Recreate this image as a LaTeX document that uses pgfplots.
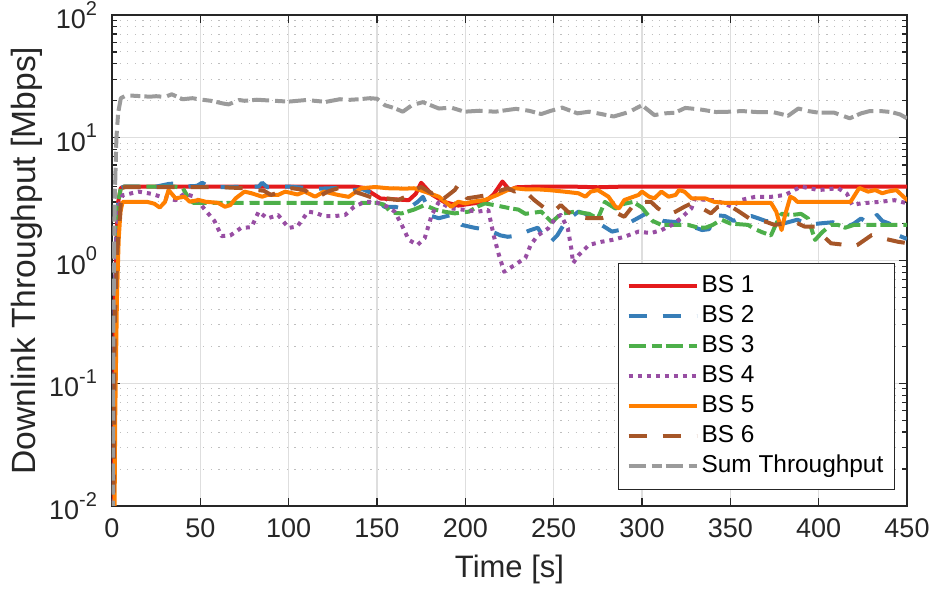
\documentclass[border=0pt]{standalone}
\usepackage{pgfplots}
\pgfplotsset{compat=1.18}
\usepackage{fontspec}
\setmainfont{Liberation Sans}

\definecolor{c1}{RGB}{228,26,28}
\definecolor{c2}{RGB}{55,126,184}
\definecolor{c3}{RGB}{77,175,74}
\definecolor{c4}{RGB}{152,78,163}
\definecolor{c5}{RGB}{255,127,0}
\definecolor{c6}{RGB}{166,86,40}
\definecolor{c7}{RGB}{155,155,155}
\definecolor{axgray}{RGB}{38,38,38}
\definecolor{gridmaj}{RGB}{222,222,222}
\definecolor{gridmin}{RGB}{190,190,190}

\newcommand{\tl}[1]{10\raisebox{0.5em}{\fontsize{10}{10}\selectfont #1}}

\begin{document}
\begin{tikzpicture}
\begin{axis}[
    width=397.5pt, height=245.5pt, scale only axis,
    xmin=0, xmax=450,
    ymode=log, ymin=0.01, ymax=100,
    xtick={0,50,...,450},
    ytick={0.01,0.1,1,10,100},
    yticklabels={\tl{-2},\tl{-1},\tl{0},\tl{1},\tl{2}},
    /pgf/number format/assume math mode=true,
    tick align=inside,
    major tick length=4pt, minor tick length=2.5pt,
    axis line style={axgray, line width=0.75pt},
    tick style={axgray, line width=0.6pt},
    ticklabel style={font=\fontsize{13.5}{16}\selectfont, text=axgray},
    xticklabel style={yshift=-3pt},
    yticklabel style={xshift=-4pt},
    xmajorgrids, ymajorgrids, yminorgrids,
    major grid style={gridmaj, line width=0.6pt},
    minor grid style={gridmin, line width=0.5pt, dash pattern=on 0.6pt off 3.2pt},
    xlabel={Time [s]},
    ylabel={Downlink Throughput [Mbps]},
    every axis x label/.style={at={(axis description cs:0.5,-0.1303)}, anchor=center,
        font=\fontsize{15.5}{18}\selectfont, text=axgray},
    every axis y label/.style={at={(axis description cs:-0.1069,0.5)}, anchor=center, rotate=90,
        font=\fontsize{16.8}{19}\selectfont, text=axgray},
    legend style={at={(0.9849,0.0326)}, anchor=south east, draw=axgray, line width=0.6pt,
        inner sep=4pt, font=\fontsize{12.2}{14}\selectfont,
        nodes={text height=9pt, text depth=3pt, inner sep=1.5pt}},
    legend cell align=left,
    legend image code/.code={\draw[#1] (0pt,0pt) -- (34pt,0pt);},
    every axis plot/.append style={line width=2pt, line join=round},
]
% BS 1
\addplot[c1] coordinates {
(0.5,0.001)(1.5,0.4)(2.5,1.5)(3.5,3.0)(5,3.9)(7,4.0)(20,4.0)(40,4.0)(60,4.0)(80,4.0)(100,4.0)(120,4.0)(137,4.0)
(143,3.9)(147,3.55)(152,3.2)(160,3.15)(168,3.1)(172,3.5)(175,4.3)(181,3.45)(188,3.0)(196,2.8)(203,2.9)(211,3.0)
(216,3.45)(221,4.4)(225,3.75)(229,3.95)(240,4.0)(260,4.0)(275,3.95)(290,4.0)(320,4.0)(350,4.0)(380,4.0)(410,4.0)(450,4.0)
};
% BS 2
\addplot[c2, dash pattern=on 9pt off 8pt] coordinates {
(0.5,0.001)(1.5,0.4)(2.5,1.5)(3.5,3.0)(5,3.9)(7,4.0)(25,4.0)(32,4.2)(36,4.25)(40,4.0)(48,4.05)(51,4.3)(55,4.0)
(65,3.95)(75,4.0)(83,4.0)(85,4.3)(88,3.95)(100,4.0)(110,3.9)(118,3.85)(124,3.88)(130,3.88)(136,3.75)(142,3.8)
(147,3.53)(151,3.11)(154,2.74)(160,2.74)(164,2.66)(170,2.8)(173,3.0)(176,3.3)(181,2.3)(185,2.21)(192,2.35)
(198,1.95)(205,1.85)(213,1.77)(220,1.6)(224,1.56)(230,1.6)(236,1.75)(241,1.85)(245,1.5)(248,1.4)(252,1.6)
(257,2.1)(264,2.5)(268,2.4)(272,2.2)(277,1.95)(283,1.72)(288,1.78)(292,2.0)(296,2.15)(302,2.4)(306,2.3)
(312,2.1)(320,2.05)(328,1.9)(334,1.77)(338,1.8)(341,2.35)(347,2.3)(352,2.1)(356,2.25)(362,2.3)(366,2.2)
(370,2.1)(375,2.05)(380,2.0)(388,2.15)(394,1.95)(400,2.0)(408,2.05)(411,1.95)(415,1.85)(420,2.0)(424,2.2)
(428,2.0)(433,2.35)(436,2.1)(440,2.0)(445,1.6)(450,1.5)
};
% BS 3
\addplot[c3, dash pattern=on 8.5pt off 3pt on 5pt off 2pt] coordinates {
(0.5,0.001)(1.5,0.4)(2.5,1.5)(3.5,3.0)(5,3.9)(7,4.0)(20,4.0)(35,4.0)(40,3.9)(43,3.3)(46,2.95)(60,2.95)(80,2.95)
(100,2.95)(120,2.95)(140,2.95)(150,2.95)(154,2.85)(158,2.45)(164,2.42)(171,2.6)(177,2.83)(183,2.6)(188,2.5)
(194,2.42)(202,2.5)(207,2.75)(211,2.92)(218,2.8)(226,2.65)(230,2.6)(234,2.4)(243,2.5)(249,2.05)(254,2.4)
(262,2.5)(270,2.4)(275,2.2)(279,3.0)(285,2.65)(290,2.9)(295,3.0)(300,2.7)(306,2.1)(311,1.95)(317,1.95)
(326,1.95)(332,1.85)(336,1.85)(340,1.95)(345,2.15)(350,2.0)(360,1.95)(364,1.8)(368,1.7)(373,1.6)(376,2.0)
(379,2.4)(385,2.35)(390,2.4)(394,2.2)(398,1.47)(402,1.7)(407,1.95)(411,1.95)(415,1.85)(420,1.95)(425,1.95)
(435,1.95)(445,1.95)(450,1.95)
};
% BS 4
\addplot[c4, dash pattern=on 2pt off 2.5pt] coordinates {
(0.5,0.001)(1.5,0.4)(2.5,1.5)(4,2.8)(6,3.4)(10,3.5)(15,3.64)(22,3.5)(28,3.3)(36,3.1)(41,3.5)(47,3.3)(52,2.66)
(58,2.1)(62,1.58)(67,1.6)(73,1.84)(79,1.87)(83,2.5)(88,2.2)(94,2.35)(100,1.84)(105,1.9)(111,2.5)(115,2.45)
(120,2.3)(126,2.3)(132,2.35)(137,2.74)(143,3.0)(149,3.0)(156,2.74)(160,2.5)(164,1.95)(168,1.47)(173,1.34)
(177,1.52)(181,2.35)(185,3.0)(192,2.66)(200,2.58)(207,2.5)(213,2.58)(216,1.61)(219,1.11)(222,0.81)(228,0.92)
(234,1.05)(237,1.34)(241,1.6)(247,1.83)(251,2.21)(254,2.35)(258,1.83)(260,1.25)(261,0.95)(264,1.1)(270,1.34)
(277,1.42)(283,1.47)(290,1.56)(298,1.72)(305,1.67)(311,1.77)(317,1.95)(322,2.21)(328,2.66)(330,3.21)(336,3.11)
(341,3.11)(351,2.74)(356,3.11)(364,3.3)(373,3.3)(381,3.42)(390,4.0)(400,3.75)(411,3.88)(416,3.5)(419,2.83)
(424,2.92)(434,3.0)(443,3.1)(451,2.9)
};
% BS 5
\addplot[c5] coordinates {
(1,0.001)(1.8,0.05)(2.8,0.5)(3.8,1.5)(4.8,2.5)(6,3.0)(10,3.0)(20,3.0)(24,2.9)(27,2.7)(30,3.0)(32,3.75)(36,3.21)
(41,3.31)(44,3.01)(49,3.11)(53,3.01)(60,2.95)(64,2.74)(67,2.83)(70,3.21)(75,3.64)(79,3.53)(85,3.31)(88,3.42)
(94,3.42)(98,3.64)(105,3.45)(109,3.64)(115,3.31)(120,3.64)(128,3.42)(134,3.3)(141,3.88)(149,3.97)(156,3.88)
(166,3.85)(171,3.88)(177,3.64)(185,3.31)(192,2.74)(196,3.01)(200,2.92)(204,3.01)(211,3.11)(218,3.42)(224,3.75)
(228,3.88)(234,3.8)(241,3.8)(247,3.75)(256,3.64)(264,3.53)(268,3.31)(271,3.64)(275,3.75)(281,3.31)(285,2.74)
(287,2.66)(290,3.11)(298,3.42)(300,3.64)(304,3.31)(307,3.21)(311,3.64)(315,3.31)(319,3.42)(321,3.75)(324,3.64)
(328,3.21)(332,3.21)(336,3.2)(341,3.0)(347,2.95)(360,2.95)(373,2.95)(376,2.5)(379,1.77)(381,2.35)(384,3.31)
(386,3.2)(388,3.0)(400,3.0)(410,3.0)(418,3.0)(423,3.9)(428,3.64)(432,3.75)(436,3.53)(439,3.64)(444,3.75)
(449,3.21)(452,3.0)
};
% BS 6
\addplot[c6, dash pattern=on 9pt off 8pt] coordinates {
(0.5,0.001)(1.5,0.3)(3,1.2)(4.5,2.3)(5.5,3.9)(8,3.97)(20,3.97)(40,3.97)(60,3.97)(75,3.88)(82,3.75)(86,3.7)
(90,3.42)(98,3.75)(102,3.88)(109,3.75)(113,3.42)(117,3.31)(122,3.64)(128,3.88)(137,3.64)(143,3.42)(150,3.15)
(156,3.2)(162,3.11)(166,3.3)(171,3.75)(175,3.97)(181,3.53)(185,3.75)(188,3.21)(194,3.75)(196,4.12)(198,3.75)
(201,3.21)(207,3.31)(213,3.42)(218,3.64)(224,3.88)(228,3.64)(230,3.75)(235,3.53)(239,3.11)(245,2.66)(250,2.5)
(254,2.83)(258,2.5)(262,2.27)(270,2.21)(277,2.21)(286,2.42)(290,2.27)(296,2.92)(300,3.01)(305,3.01)(309,2.66)
(315,2.35)(319,2.5)(324,2.74)(328,2.92)(334,2.66)(339,2.42)(343,2.74)(349,2.83)(355,2.5)(362,2.14)(370,2.07)
(375,1.95)(381,2.01)(388,2.01)(392,1.89)(398,1.89)(403,1.56)(407,1.38)(415,1.34)(419,1.29)(422,1.34)(430,1.61)
(436,1.52)(445,1.42)(451,1.38)
};
% Sum
\addplot[c7, dash pattern=on 8.5pt off 3pt on 5pt off 2pt] coordinates {
(0.2,0.001)(0.8,0.3)(1.5,3)(2.5,10)(3.5,16)(5,21)(7.7,22)(12,22)(21.5,21.6)(25,21.8)(30,21.5)(33.8,22.6)(40,20.6)
(45.5,21)(50,20.5)(56,20)(63,19.0)(66,18.7)(72,20.3)(75,20)(82,20.4)(92,20)(100,19.7)(110,20.3)(121,19.6)
(129,20.6)(133,20.3)(140,20.6)(146,21)(150,20.8)(154.5,18.4)(160,17.4)(164.6,16.3)(170,18.5)(176,19.5)(185,17.3)
(192,17.6)(199.5,16.3)(208,16.6)(217,16.3)(228.6,17.2)(236,16.6)(243,15.6)(248,16.5)(254.8,17.6)(263.5,15.8)
(270,16.3)(275,15.8)(284,14.9)(292.6,16.2)(300,18.4)(307,15.3)(313,15.8)(318.7,16.0)(324.5,17.5)(333,17.0)
(342,16.2)(350,16.3)(356.5,16.5)(365,16.2)(374,16.2)(382.7,15.1)(388.5,17.3)(394,16.5)(400,16.0)(408.8,16.0)
(417.6,14.4)(424,15.8)(429,16.5)(435,16.5)(441,16.2)(446,15.5)(450,14.4)
};
\legend{BS 1,BS 2,BS 3,BS 4,BS 5,BS 6,Sum Throughput}
\coordinate (bl) at (rel axis cs:0,0);
\coordinate (tr) at (rel axis cs:1,1);
\end{axis}
\pgfresetboundingbox
\path[use as bounding box] ([shift={(-56pt,-42pt)}]bl) rectangle ([shift={(13pt,7.5pt)}]tr);
\end{tikzpicture}
\end{document}
